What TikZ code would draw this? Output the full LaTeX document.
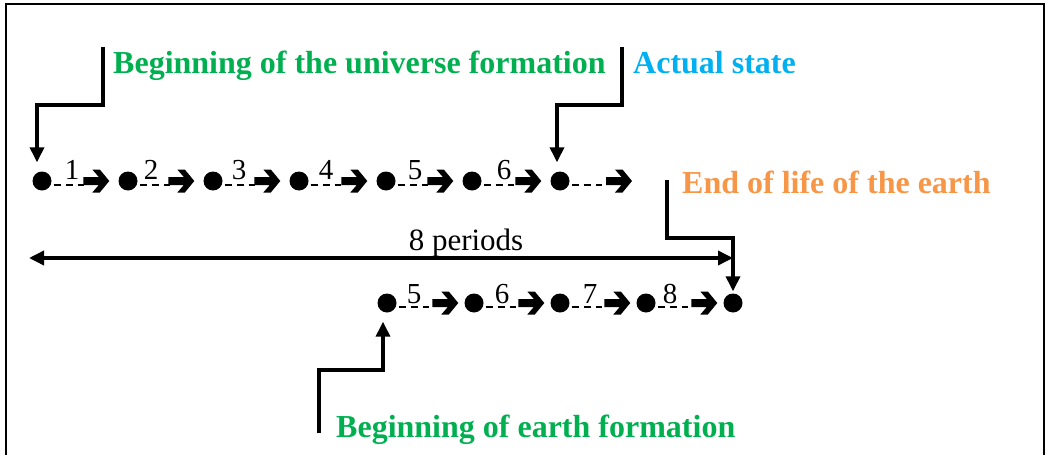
\documentclass[tikz,border=0pt]{standalone}
\usepackage{fontspec}
\setmainfont{Liberation Serif}
\usetikzlibrary{arrows.meta}
\definecolor{tgreen}{HTML}{00B050}
\definecolor{tblue}{HTML}{00B0F0}
\definecolor{torange}{HTML}{F79646}
\tikzset{
  dot/.style={circle,fill=black,minimum size=19pt,inner sep=0pt},
  num/.style={font=\fontsize{29}{29}\selectfont,inner sep=0pt,anchor=base},
  title/.style={font=\fontsize{32}{32}\selectfont\bfseries,inner sep=0pt,anchor=base west},
  dashseg/.style={line width=1.5pt,dash pattern=on 7pt off 5pt},
  elbow/.style={line width=3.5pt,-{Triangle[length=15pt,width=14pt]}},
  span/.style={line width=3.5pt,{Triangle[length=15pt,width=14pt]}-{Triangle[length=15pt,width=14pt]}},
  chev/.pic={\fill (-26,-4) -- (-10.5,-4) -- (-17,-11.5) -- (-9.5,-11.5) -- (0,0) -- (-9.5,11.5) -- (-17,11.5) -- (-10.5,4) -- (-26,4) -- cycle;}
}
\begin{document}
\begin{tikzpicture}[x=1pt,y=-1pt]
\useasboundingbox (0,0) rectangle (1049,455);
% frame
\draw[line width=1.5pt] (6,455) -- (6,4) -- (1044,4) -- (1044,455);

% top row
\foreach \i/\x in {1/42,2/128,3/213,4/299,5/386,6/472,7/560}
  \node[dot] (t\i) at (\x,181) {};
\foreach \a/\b in {1/2,2/3,3/4,4/5,5/6,6/7}{
  \draw[dashseg] ([shift={(2pt,-4pt)}]t\a.east) -- ++(30,0);
  \path ([xshift=-9pt]t\b.west) pic {chev};
}
\draw[dashseg] ([shift={(2pt,-4pt)}]t7.east) -- ++(30,0);
\coordinate (tend) at (632,181);
\path (tend) pic {chev};
\foreach \d/\x in {1/72,2/151,3/239,4/326,5/415,6/504}
  \node[num] (n\d) at (\x,179) {\d};

% bottom row
\foreach \i/\x in {1/387,2/474,3/560,4/646,5/733}
  \node[dot] (b\i) at (\x,303) {};
\foreach \a/\b in {1/2,2/3,3/4,4/5}{
  \draw[dashseg] ([shift={(2pt,-4pt)}]b\a.east) -- ++(30,0);
  \path ([xshift=-6pt]b\b.west) pic {chev};
}
\foreach \d/\x in {5/414,6/502,7/590,8/670}
  \node[num] (m\d) at (\x,303) {\d};

% titles
\node[title,text=tgreen] (univ) at (113,73) {Beginning of the universe formation};
\node[title,text=tblue] (act) at (633,73) {Actual state};
\node[title,text=torange] (endl) at (682,193) {End of life of the earth};
\node[title,text=tgreen] (earth) at (336,437) {Beginning of earth formation};

% elbow connectors
\coordinate (u0) at (103,47);
\draw[elbow] (u0) -- (103,105) -| ([xshift=-5pt,yshift=9pt]t1.north);
\coordinate (a0) at (622,47);
\draw[elbow] (a0) -- (622,105) -| ([xshift=-3pt,yshift=9pt]t7.north);
\coordinate (e0) at (667,180);
\draw[elbow] (e0) -- (667,238) -| ([yshift=2pt]b5.north);
\coordinate (g0) at (319,433);
\draw[elbow] (g0) -- (319,370) -| ([xshift=-4pt,yshift=-9pt]b1.south);

% 8 periods
\coordinate (p0) at (29,258);
\coordinate (p1) at (733,258);
\draw[span] (p0) -- (p1);
\node[font=\fontsize{31}{31}\selectfont,inner sep=0pt,anchor=base] (per) at (466,250) {8 periods};
\end{tikzpicture}
\end{document}
